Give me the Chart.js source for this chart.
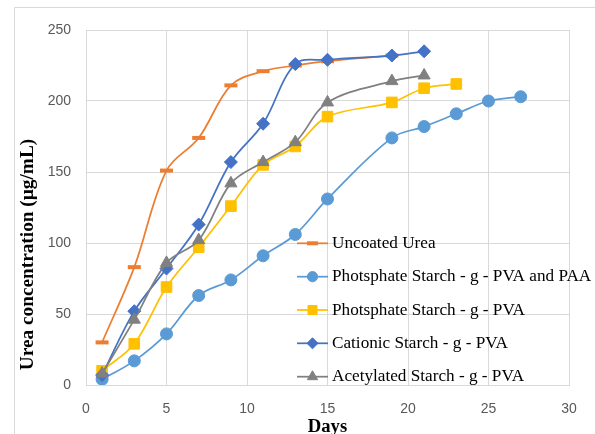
<!DOCTYPE html>
<html><head><meta charset="utf-8">
<script src="https://cdn.jsdelivr.net/npm/chart.js@4/dist/chart.umd.min.js"></script>
<style>html,body{margin:0;padding:0;background:#fff}#wrap{position:relative;width:595px;height:434px}</style>
</head><body><div id="wrap"><canvas id="c" width="595" height="434"></canvas></div>
<script>
const seriesNames = [
  'Uncoated Urea',
  'Photsphate Starch - g - PVA and PAA',
  'Photsphate Starch - g - PVA',
  'Cationic Starch - g - PVA',
  'Acetylated Starch - g - PVA'
];
const uncoatedDays = [1, 3, 5, 7, 9, 11, 13, 15, 19];
const uncoatedValues = [30, 83, 151, 174, 211, 221, 225, 228, 232];
const paaDays = [1, 3, 5, 7, 9, 11, 13, 15, 19, 21, 23, 25, 27];
const paaValues = [4, 17, 36, 63, 74, 91, 106, 131, 174, 182, 191, 200, 203];
const pvaDays = [1, 3, 5, 7, 9, 11, 13, 15, 19, 21, 23];
const pvaValues = [10, 29, 69, 97, 126, 155, 168, 189, 199, 209, 212];
const cationicDays = [1, 3, 5, 7, 9, 11, 13, 15, 19, 21];
const cationicValues = [7, 52, 82, 113, 157, 184, 226, 229, 232, 235];
const acetylDays = [1, 3, 5, 7, 9, 11, 13, 15, 19, 21];
const acetylValues = [8, 46, 86, 102, 142, 157, 171, 199, 214, 218];
const xTickValues = [0, 5, 10, 15, 20, 25, 30];
const yTickValues = [0, 50, 100, 150, 200, 250];
const xTitle = 'Days';
const yTitle = 'Urea concentration (\u00b5g/mL)';

function pts(xs, ys) { return xs.map((x, i) => ({ x: x, y: ys[i] })); }

const styles = [
  { color: '#ED7D31', pointStyle: 'line', radius: 6.5, bw: 4, fill: '#ED7D31' },
  { color: '#5B9BD5', pointStyle: 'circle', radius: 6, bw: 1, fill: '#5B9BD5' },
  { color: '#FFC000', pointStyle: 'rect', radius: 7.5, bw: 1, fill: '#FFC000' },
  { color: '#4472C4', pointStyle: 'rectRot', radius: 6.5, bw: 1, fill: '#4472C4' },
  { color: '#808080', pointStyle: 'triangle', radius: 7, bw: 1, fill: '#808080' }
];
const dataSets = [
  pts(uncoatedDays, uncoatedValues),
  pts(paaDays, paaValues),
  pts(pvaDays, pvaValues),
  pts(cationicDays, cationicValues),
  pts(acetylDays, acetylValues)
];

const datasets = dataSets.map((d, i) => ({
  label: seriesNames[i],
  data: d,
  borderColor: styles[i].color,
  backgroundColor: styles[i].fill,
  borderWidth: 1.75,
  tension: 0.35,
  pointStyle: styles[i].pointStyle,
  pointRadius: styles[i].radius,
  pointBorderWidth: styles[i].bw,
  pointBorderColor: styles[i].color,
  pointBackgroundColor: styles[i].fill,
  order: 5 - i
}));

const framePlugin = {
  id: 'frame',
  beforeDraw(chart) {
    const ctx = chart.ctx;
    ctx.save();
    ctx.fillStyle = '#fff';
    ctx.fillRect(0, 0, chart.width, chart.height);
    ctx.strokeStyle = '#d9d9d9';
    ctx.lineWidth = 1;
    ctx.beginPath();
    ctx.moveTo(14.5, chart.height + 2);
    ctx.lineTo(14.5, 7.5);
    ctx.lineTo(chart.width + 2, 7.5);
    ctx.stroke();
    ctx.restore();
  }
};

function drawMarker(ctx, st, x, y) {
  ctx.save();
  ctx.fillStyle = st.fill;
  ctx.strokeStyle = st.color;
  if (Chart.helpers && Chart.helpers.drawPoint) {
    ctx.lineWidth = st.bw;
    Chart.helpers.drawPoint(ctx, { pointStyle: st.pointStyle, radius: st.radius * 0.85, rotation: 0, borderWidth: st.bw }, x, y);
  }
  ctx.restore();
}

const yTitlePlugin = {
  id: 'ytitle',
  afterDraw(chart) {
    const ctx = chart.ctx;
    ctx.save();
    ctx.translate(28, 254.5);
    ctx.rotate(-Math.PI / 2);
    ctx.font = 'bold 19.3px "Liberation Serif", "Times New Roman", serif';
    ctx.fillStyle = '#000';
    ctx.textAlign = 'center';
    ctx.textBaseline = 'middle';
    ctx.fillText(yTitle, 0, 0);
    ctx.restore();
  }
};

const legendPlugin = {
  id: 'insideLegend',
  afterDatasetsDraw(chart) {
    const ctx = chart.ctx;
    const rowY = [243.3, 276.7, 310, 343.3, 376.7];
    ctx.save();
    ctx.font = '17.2px "Liberation Serif", "Times New Roman", serif';
    ctx.textBaseline = 'middle';
    ctx.textAlign = 'left';
    seriesNames.forEach((name, i) => {
      const st = styles[i];
      const y = rowY[i];
      ctx.strokeStyle = st.color;
      ctx.lineWidth = 1.75;
      ctx.beginPath();
      ctx.moveTo(297, y);
      ctx.lineTo(328, y);
      ctx.stroke();
      drawMarker(ctx, st, 312.5, y);
      ctx.fillStyle = '#000';
      ctx.fillText(name, 332, y);
    });
    ctx.restore();
  }
};

new Chart(document.getElementById('c'), {
  type: 'line',
  data: { datasets: datasets },
  options: {
    responsive: false,
    animation: false,
    devicePixelRatio: 1,
    layout: { padding: { left: 14, top: 30, right: 26, bottom: 0 } },
    plugins: { legend: { display: false }, tooltip: { enabled: false } },
    scales: {
      x: {
        type: 'linear',
        min: 0, max: 30,
        afterBuildTicks(s) { s.ticks = xTickValues.map(v => ({ value: v })); },
        afterFit(s) { s.height = 49; },
        grid: { color: '#d9d9d9', drawTicks: false, lineWidth: 1 },
        border: { color: '#d9d9d9' },
        ticks: { padding: 16, color: '#595959', font: { family: '"Liberation Sans", Arial, sans-serif', size: 14 }, maxRotation: 0 },
        title: { display: true, text: xTitle, color: '#000', font: { family: '"Liberation Serif", "Times New Roman", serif', size: 18.67, weight: 'bold' }, padding: { top: 0, bottom: -4 } }
      },
      y: {
        type: 'linear',
        min: 0, max: 250,
        afterBuildTicks(s) { s.ticks = yTickValues.map(v => ({ value: v })); },
        afterFit(s) { s.width = 72; },
        grid: { color: '#d9d9d9', drawTicks: false, lineWidth: 1 },
        border: { color: '#d9d9d9' },
        ticks: { padding: 15, color: '#595959', font: { family: '"Liberation Sans", Arial, sans-serif', size: 14 } },
        title: { display: false, text: yTitle }
      }
    }
  },
  plugins: [framePlugin, legendPlugin, yTitlePlugin]
});
</script></body></html>
